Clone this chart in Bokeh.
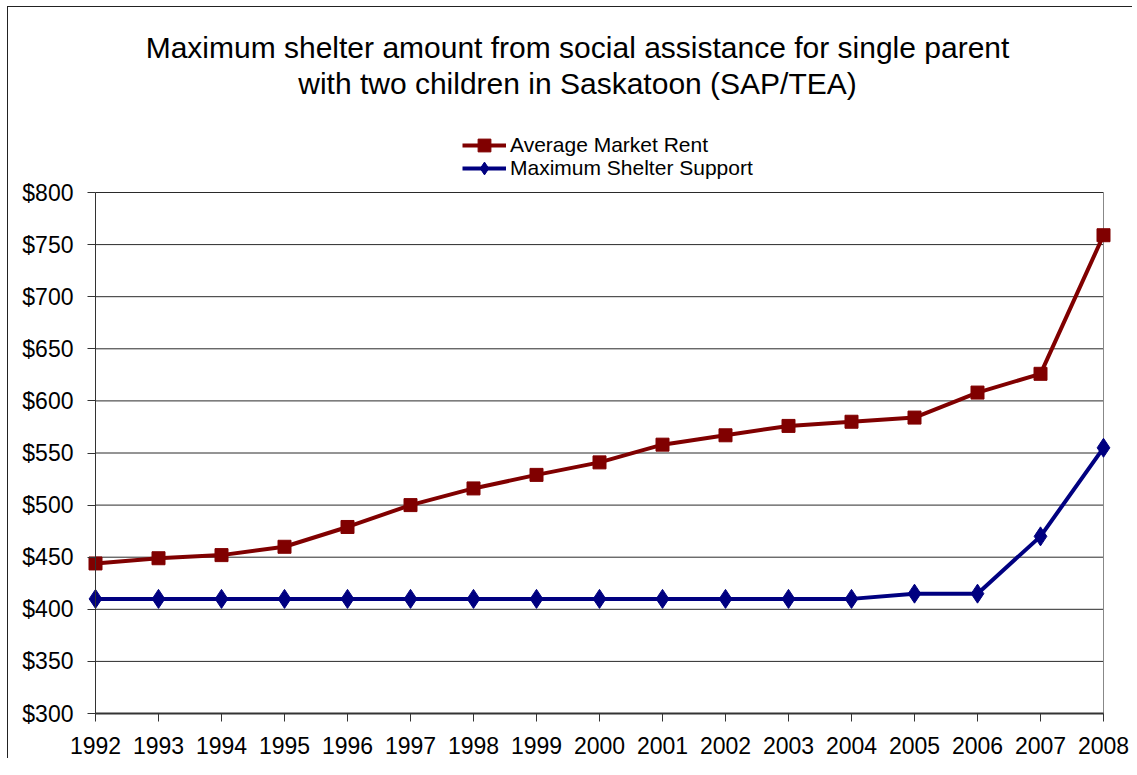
from bokeh.plotting import figure
from bokeh.models import Legend, LegendItem, Label, FixedTicker, NumeralTickFormatter
from bokeh.embed import file_html
from bokeh.resources import INLINE

years = list(range(1992, 2009))
market_rent = [444, 449, 452, 460, 479, 500, 516, 529, 541, 558, 567, 576, 580, 584, 608, 626, 759]
shelter_support = [410, 410, 410, 410, 410, 410, 410, 410, 410, 410, 410, 410, 410, 415, 415, 470, 555]
title_lines = ["Maximum shelter amount from social assistance for single parent",
               "with two children in Saskatoon (SAP/TEA)"]
series_names = ["Average Market Rent", "Maximum Shelter Support"]
y_ticks = list(range(300, 801, 50))

FONT = "Liberation Sans"
W, H = 1125, 752
OX, OY = 8, 7  # page offset of the canvas (margin + border)
# frame (plot area) edges in page pixels
FL, FR, FT, FB = 95, 1103, 192, 713
x0, x1 = years[0], years[-1]
y0, y1 = y_ticks[0], y_ticks[-1]
sx = (FR - FL) / (x1 - x0)
sy = (FB - FT) / (y1 - y0)
xr = (x0 - (FL - OX) / sx, x1 + (W - (FR - OX)) / sx)
yr = (y0 - (H - (FB - OY)) / sy, y1 + (FT - OY) / sy)

p = figure(width=W, height=H, output_backend="svg", toolbar_location=None,
           x_range=xr, y_range=yr,
           min_border_left=0, min_border_right=0, min_border_top=0, min_border_bottom=0)
p.styles = {"margin-left": "7px", "margin-top": "6px",
            "border-left": "1px solid #222", "border-top": "1px solid #222"}
p.outline_line_color = None
p.xgrid.grid_line_color = None
p.ygrid.grid_line_color = None

# gridlines and plot-area border
p.segment(x0=[x0] * len(y_ticks), x1=[x1] * len(y_ticks), y0=y_ticks, y1=y_ticks,
          line_color="#2a2a2a", line_width=1)
p.segment(x0=[x1], x1=[x1], y0=[y0], y1=[y1], line_color="#888888", line_width=1)

r1 = p.line(years, market_rent, line_color="#800000", line_width=4)
m1 = p.scatter(years, market_rent, marker="square", size=13, fill_color="#800000", line_color="#800000")
r2 = p.line(years, shelter_support, line_color="#000080", line_width=4)
m2 = p.scatter(years, shelter_support, marker="diamond", size=19, fill_color="#000080", line_color="#000080")

p.xaxis.ticker = FixedTicker(ticks=years)
p.yaxis.ticker = FixedTicker(ticks=y_ticks)
p.yaxis.formatter = NumeralTickFormatter(format="$0")
p.xaxis.fixed_location = y0
p.yaxis.fixed_location = x0
p.xaxis.bounds = (x0, x1)
p.yaxis.bounds = (y0, y1)
for ax in (p.xaxis, p.yaxis):
    ax.major_label_text_font = FONT
    ax.major_label_text_font_size = "23px"
    ax.major_label_text_color = "black"
    ax.axis_line_color = "#333333"
    ax.axis_line_width = 2
    ax.major_tick_line_color = "#333333"
    ax.major_tick_in = 0
    ax.major_tick_out = 8
    ax.minor_tick_line_color = None
p.yaxis.axis_line_width = 1
p.xaxis.major_label_standoff = 15
p.yaxis.major_label_standoff = 14

# one legend per row so that the rows can sit 23px apart with full-size markers
for (name, rends), row_center in zip([(series_names[0], [r1, m1]), (series_names[1], [r2, m2])], [145, 168]):
    lg = Legend(items=[LegendItem(label=name, renderers=rends)],
                location=(462 - OX, H - (row_center + 16 - OY)), orientation="vertical",
                label_text_font=FONT, label_text_font_size="21px", label_text_color="black",
                glyph_width=44, glyph_height=32, label_height=21,
                spacing=0, padding=0, margin=0, label_standoff=4,
                border_line_color=None, background_fill_alpha=0)
    p.add_layout(lg, "center")

for txt, yy in zip(title_lines, [47, 83]):
    p.add_layout(Label(x=577 - OX, y=H - (yy - OY), x_units="screen", y_units="screen", text=txt,
                       text_align="center", text_baseline="middle",
                       text_font=FONT, text_font_size="30px", text_color="black"))

open("out.html", "w").write(file_html(p, INLINE))
